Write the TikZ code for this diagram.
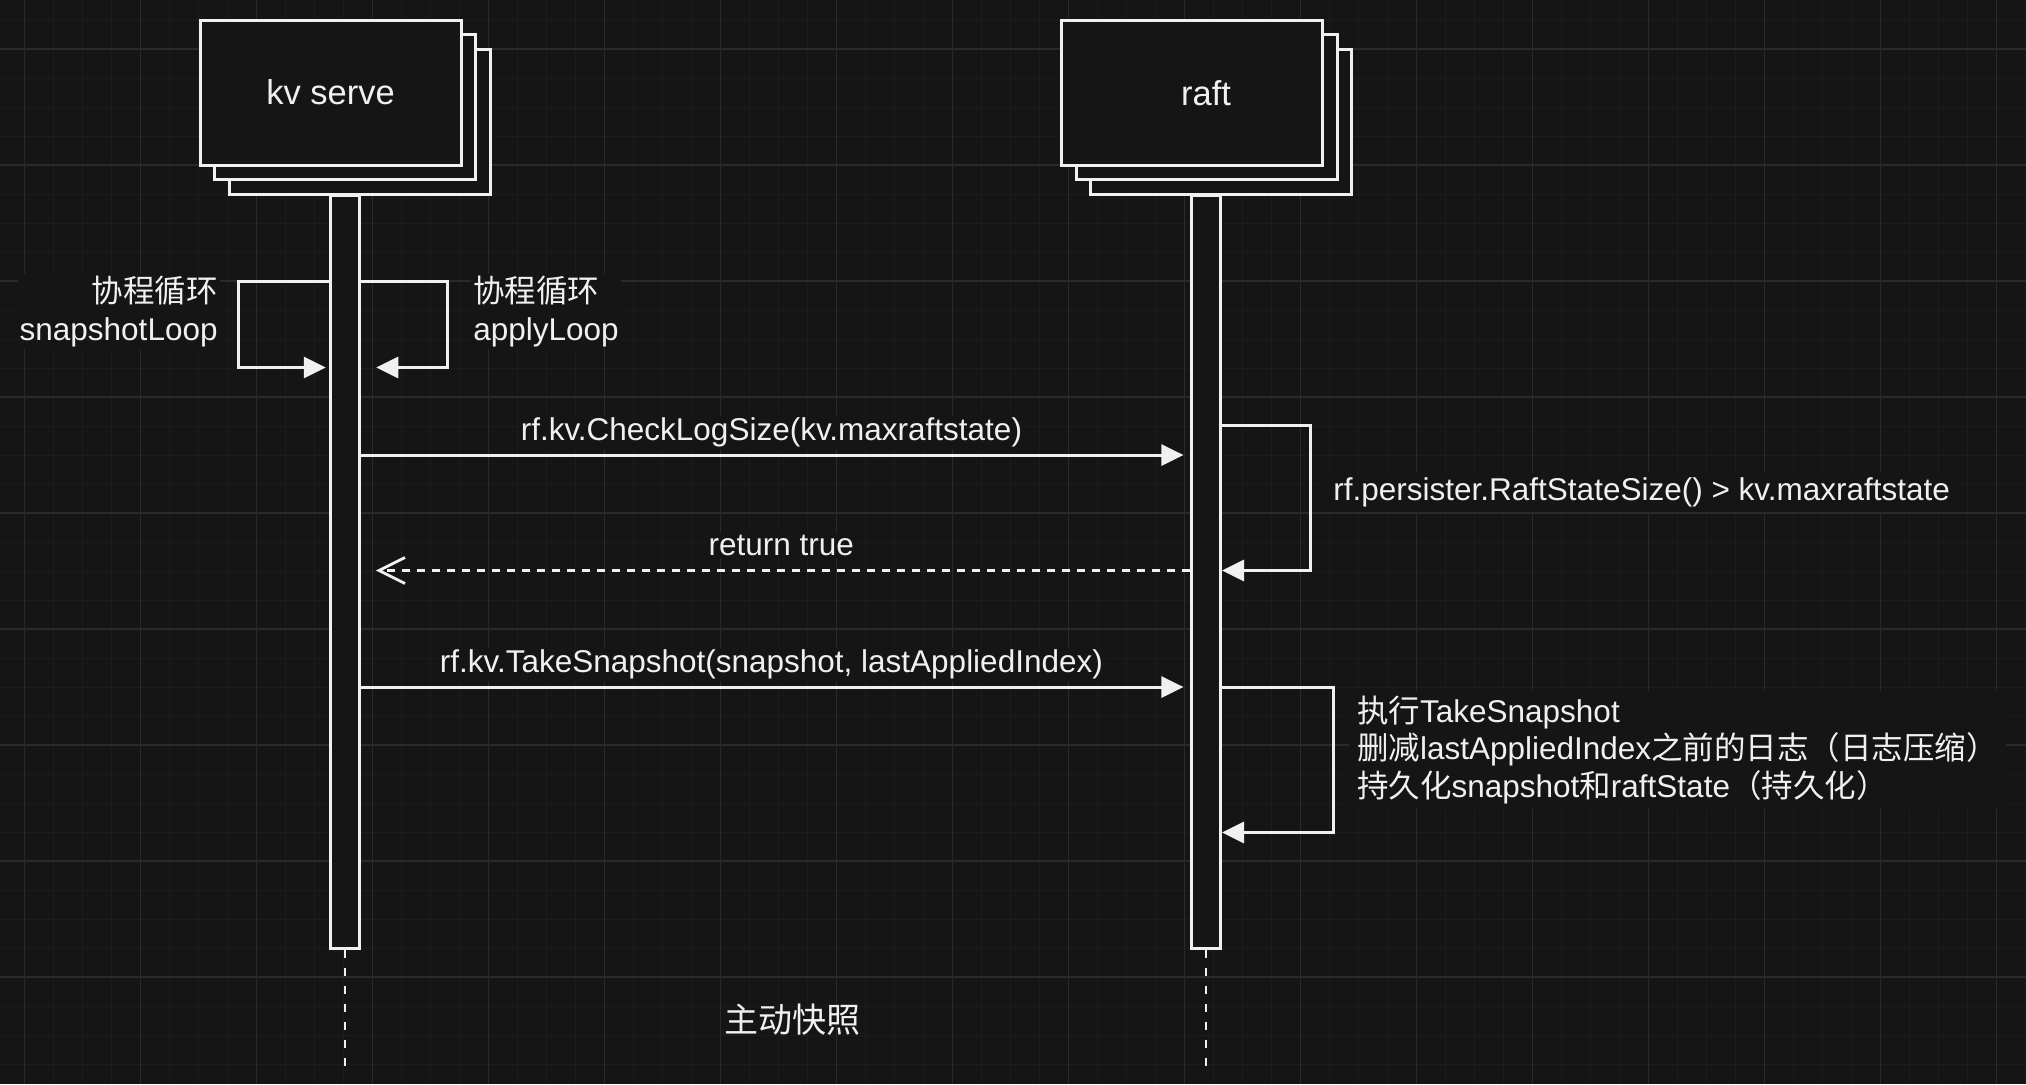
\documentclass[tikz,border=0pt]{standalone}
\usepackage{fontspec}
\setmainfont{Liberation Sans}
\newfontfamily\zhfont{Noto Sans CJK SC}
\newcommand{\zh}[1]{{\zhfont #1}}
\newcommand{\lblfont}{\fontsize{15.75pt}{18.75pt}\selectfont}
\newcommand{\titlefont}{\fontsize{17.25pt}{20pt}\selectfont}
\usetikzlibrary{arrows.meta}
\definecolor{bg}{HTML}{151515}
\definecolor{fg}{HTML}{F0F0F0}
\definecolor{gridminor}{HTML}{1C1C1C}
\definecolor{gridmajor}{HTML}{2A2A2A}

\begin{document}
\begin{tikzpicture}[x=0.5pt, y=-0.5pt,
	lifebox/.style={draw=fg, fill=bg, line width=1.5pt, minimum width=130.5pt, minimum height=72.5pt, inner sep=0pt, text=fg, font=\titlefont},
	actbar/.style={draw=fg, fill=bg, line width=1.5pt, minimum width=14.5pt, minimum height=376.5pt, inner sep=0pt},
	msg/.style={draw=fg, line width=1.5pt, -{Triangle[length=11pt, width=10.5pt]}},
	reply/.style={draw=fg, line width=1.4pt, dash pattern=on 4pt off 3.5pt, -{Straight Barb[length=13pt, width=13pt]}},
	life/.style={draw=fg, line width=1.2pt, dash pattern=on 4pt off 5pt},
	lbl/.style={text=fg, fill=bg, inner sep=1pt, font=\lblfont},
	note/.style={lbl, inner xsep=4pt, inner ysep=2.5pt},
	gridmin/.style={draw=gridminor, line width=0.5pt},
	gridmaj/.style={draw=gridmajor, line width=0.6pt}]
	
	\fill[bg] (0,0) rectangle (2026,1084);
	\useasboundingbox (0,0) rectangle (2026,1084);
	\foreach \i in {0,...,69} \draw[gridmin] ({24.7+29*\i},0) -- ({24.7+29*\i},1084);
	\foreach \i in {0,...,36} \draw[gridmin] (0,{20+29*\i}) -- (2026,{20+29*\i});
	\foreach \i in {0,...,17} \draw[gridmaj] ({24.7+116*\i},0) -- ({24.7+116*\i},1084);
	\foreach \i in {0,...,8} \draw[gridmaj] (0,{49+116*\i}) -- (2026,{49+116*\i});
	
	\node[lifebox] (kv3)   at (359.5,121.5) {};
	\node[lifebox] (kv2)   at (345,107)     {};
	\node[lifebox] (kv)    at (330.5,92.5)  {kv serve};
	\node[lifebox] (raft3) at (1221,121.5)  {};
	\node[lifebox] (raft2) at (1206.5,107)  {};
	\node[lifebox] (raft)  at (1192,92.5)   {};
	\node[text=fg, font=\titlefont] (rafttitle) at (1206,93) {raft};
	
	\node[actbar] (kvbar)   at (344.75,571.5) {};
	\node[actbar] (raftbar) at (1206,571.5)   {};
	\draw[life] (kvbar.south)   -- ++(0,116);
	\draw[life] (raftbar.south) -- ++(0,116);
	
	\coordinate (loopTop)  at (0,281);
	\coordinate (loopEnd)  at (0,367.5);
	\coordinate (checkTop) at (0,425.5);
	\coordinate (check)    at (0,455);
	\coordinate (ret)      at (0,570.5);
	\coordinate (take)     at (0,687);
	\coordinate (takeEnd)  at (0,832.5);
	
	\draw[msg, shorten >=1.5pt]  (kvbar.west |- loopTop) -- ++(-90,0) |- (kvbar.west |- loopEnd);
	\draw[msg, shorten >=7.75pt] (kvbar.east |- loopTop) -- ++(87,0)  |- (kvbar.east |- loopEnd);
	\draw[msg] (raftbar.east |- checkTop) -- ++(88,0)  |- (raftbar.east |- ret);
	\draw[msg] (raftbar.east |- take)     -- ++(111,0) |- (raftbar.east |- takeEnd);
	
	\draw[msg, shorten >=3.3pt] (kvbar.east |- check) -- node[lbl, anchor=base, yshift=7.5pt, xshift=-2pt] {rf.kv.CheckLogSize(kv.maxraftstate)} (raftbar.west |- check);
	\draw[reply, shorten >=7.6pt] (raftbar.west |- ret) -- node[lbl, anchor=base, yshift=7.5pt, xshift=3pt] {return true} (kvbar.east |- ret);
	\draw[msg, shorten >=3.3pt] (kvbar.east |- take) -- node[lbl, anchor=base, yshift=7.5pt, xshift=-2pt] {rf.kv.TakeSnapshot(snapshot, lastAppliedIndex)} (raftbar.west |- take);
	
	\node[lbl, anchor=base east, align=right] (snapnote)  at (220,340) {\zh{协程循环}\\snapshotLoop};
	\node[lbl, anchor=base west, align=left]  (applynote) at (471,340) {\zh{协程循环}\\applyLoop};
	\node[note, anchor=base west] (sizenote) at (1325,500.7) {rf.persister.RaftStateSize() > kv.maxraftstate};
	\node[note, anchor=base west, align=left] (takenote) at (1348.7,797) {\zh{执行}TakeSnapshot\\\zh{删减}lastAppliedIndex\zh{之前的日志（日志压缩）}\\\zh{持久化}snapshot\zh{和}raftState\zh{（持久化）}};
	\node[text=fg, font=\fontsize{17pt}{20pt}\selectfont] (caption) at (792,1020) {\zh{主动快照}};
	
\end{tikzpicture}
\end{document}
